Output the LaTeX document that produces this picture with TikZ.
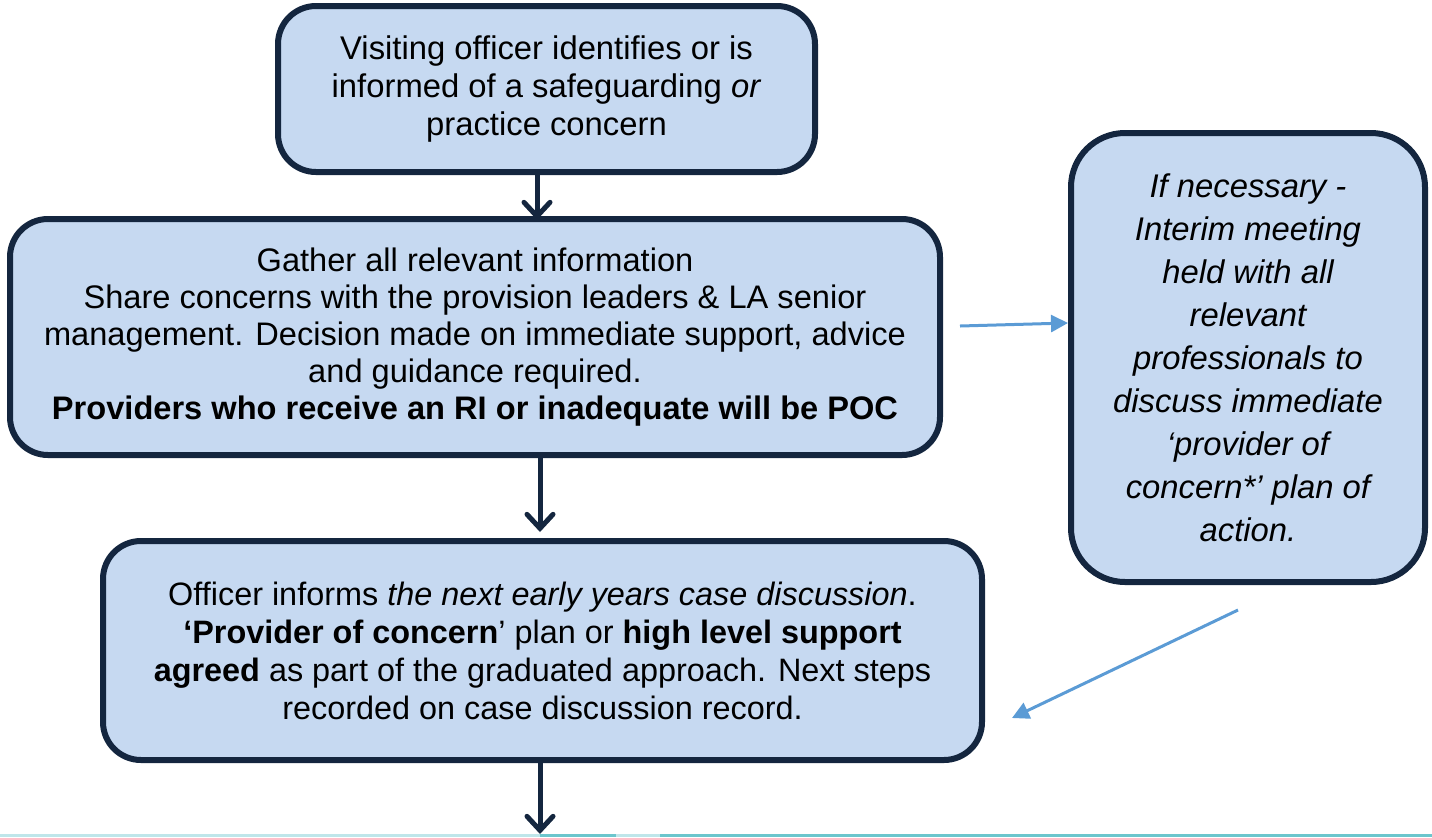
\documentclass[tikz,border=0pt]{standalone}
\usepackage{fontspec}
\setmainfont{Liberation Sans}
\usetikzlibrary{arrows.meta}
\definecolor{boxfill}{HTML}{C6D9F1}
\definecolor{boxline}{HTML}{14263F}
\definecolor{linkblue}{HTML}{5B9BD5}
\definecolor{edgelight}{HTML}{BFE6EA}
\definecolor{edgedark}{HTML}{6CC6CD}
\tikzset{
  flowbox/.style={draw=boxline, fill=boxfill, line width=3pt, rounded corners=19pt,
    align=center, inner sep=0pt, font=\fontsize{16.4}{19}\selectfont},
  flowarrow/.style={draw=boxline, line width=2.5pt, line cap=round,
    -{Straight Barb[length=7pt,width=13pt,line cap=round]}},
  sidearrow/.style={draw=linkblue, line width=1.5pt, -{Triangle[length=8.5pt,width=8.5pt]}}
}
\begin{document}
\begin{tikzpicture}[x=0.5pt,y=-0.5pt]
\useasboundingbox (0,0) rectangle (1432,837);

% thin coloured strip along the lower edge
\fill[edgelight] (0,834) rectangle (1432,837);
\fill[edgedark] (540,834) rectangle (616,837);
\fill[edgedark] (660,834) rectangle (1432,837);

% boxes
\node[flowbox, minimum width=268.5pt, minimum height=83pt] (top) at (546.5,89)
  {Visiting officer identifies or is\\ informed of a safeguarding \textit{or}\\ practice concern};

\node[flowbox, minimum width=465pt, minimum height=118pt, font=\fontsize{16.3}{18.5}\selectfont] (mid) at (475,337)
  {Gather all relevant information\\
   Share concerns with the provision leaders \& LA senior\\
   management. Decision made on immediate support, advice\\
   and guidance required.\\
   \textbf{Providers who receive an RI or inadequate will be POC}};

\node[flowbox, minimum width=439.5pt, minimum height=109.5pt, font=\fontsize{16.2}{19}\selectfont] (bot) at (542.5,650.5)
  {Officer informs \textit{the next early years case discussion}.\\
   \textbf{‘Provider of concern}’ plan or \textbf{high level support}\\
   \textbf{agreed} as part of the graduated approach. Next steps\\
   recorded on case discussion record.};

\node[flowbox, rounded corners=27pt, minimum width=177pt, minimum height=224.5pt,
      font=\fontsize{16.4}{21.5}\selectfont\itshape] (side) at (1248,357.5)
  {If necessary -\\ Interim meeting\\ held with all\\ relevant\\ professionals to\\
   discuss immediate\\ ‘provider of\\ concern*’ plan of\\ action.};

% helper points for the connectors
\coordinate (a1) at (537,0);
\coordinate (a2) at (540,0);
\coordinate (endpt) at (540,834);
\coordinate (linkstart) at (960,326);
\coordinate (linkend) at (1068,323);
\coordinate (backstart) at (1238,610);
\coordinate (backend) at (1012,718);

% main flow
\draw[flowarrow] (a1 |- top.south) -- ([yshift=-2pt]a1 |- mid.north);
\draw[flowarrow] (a2 |- mid.south) -- ([yshift=3pt]a2 |- bot.north);
\draw[flowarrow] (a2 |- bot.south) -- (endpt);

% side links
\draw[sidearrow] (linkstart) -- (linkend);
\draw[sidearrow] (backstart) -- (backend);
\end{tikzpicture}
\end{document}
